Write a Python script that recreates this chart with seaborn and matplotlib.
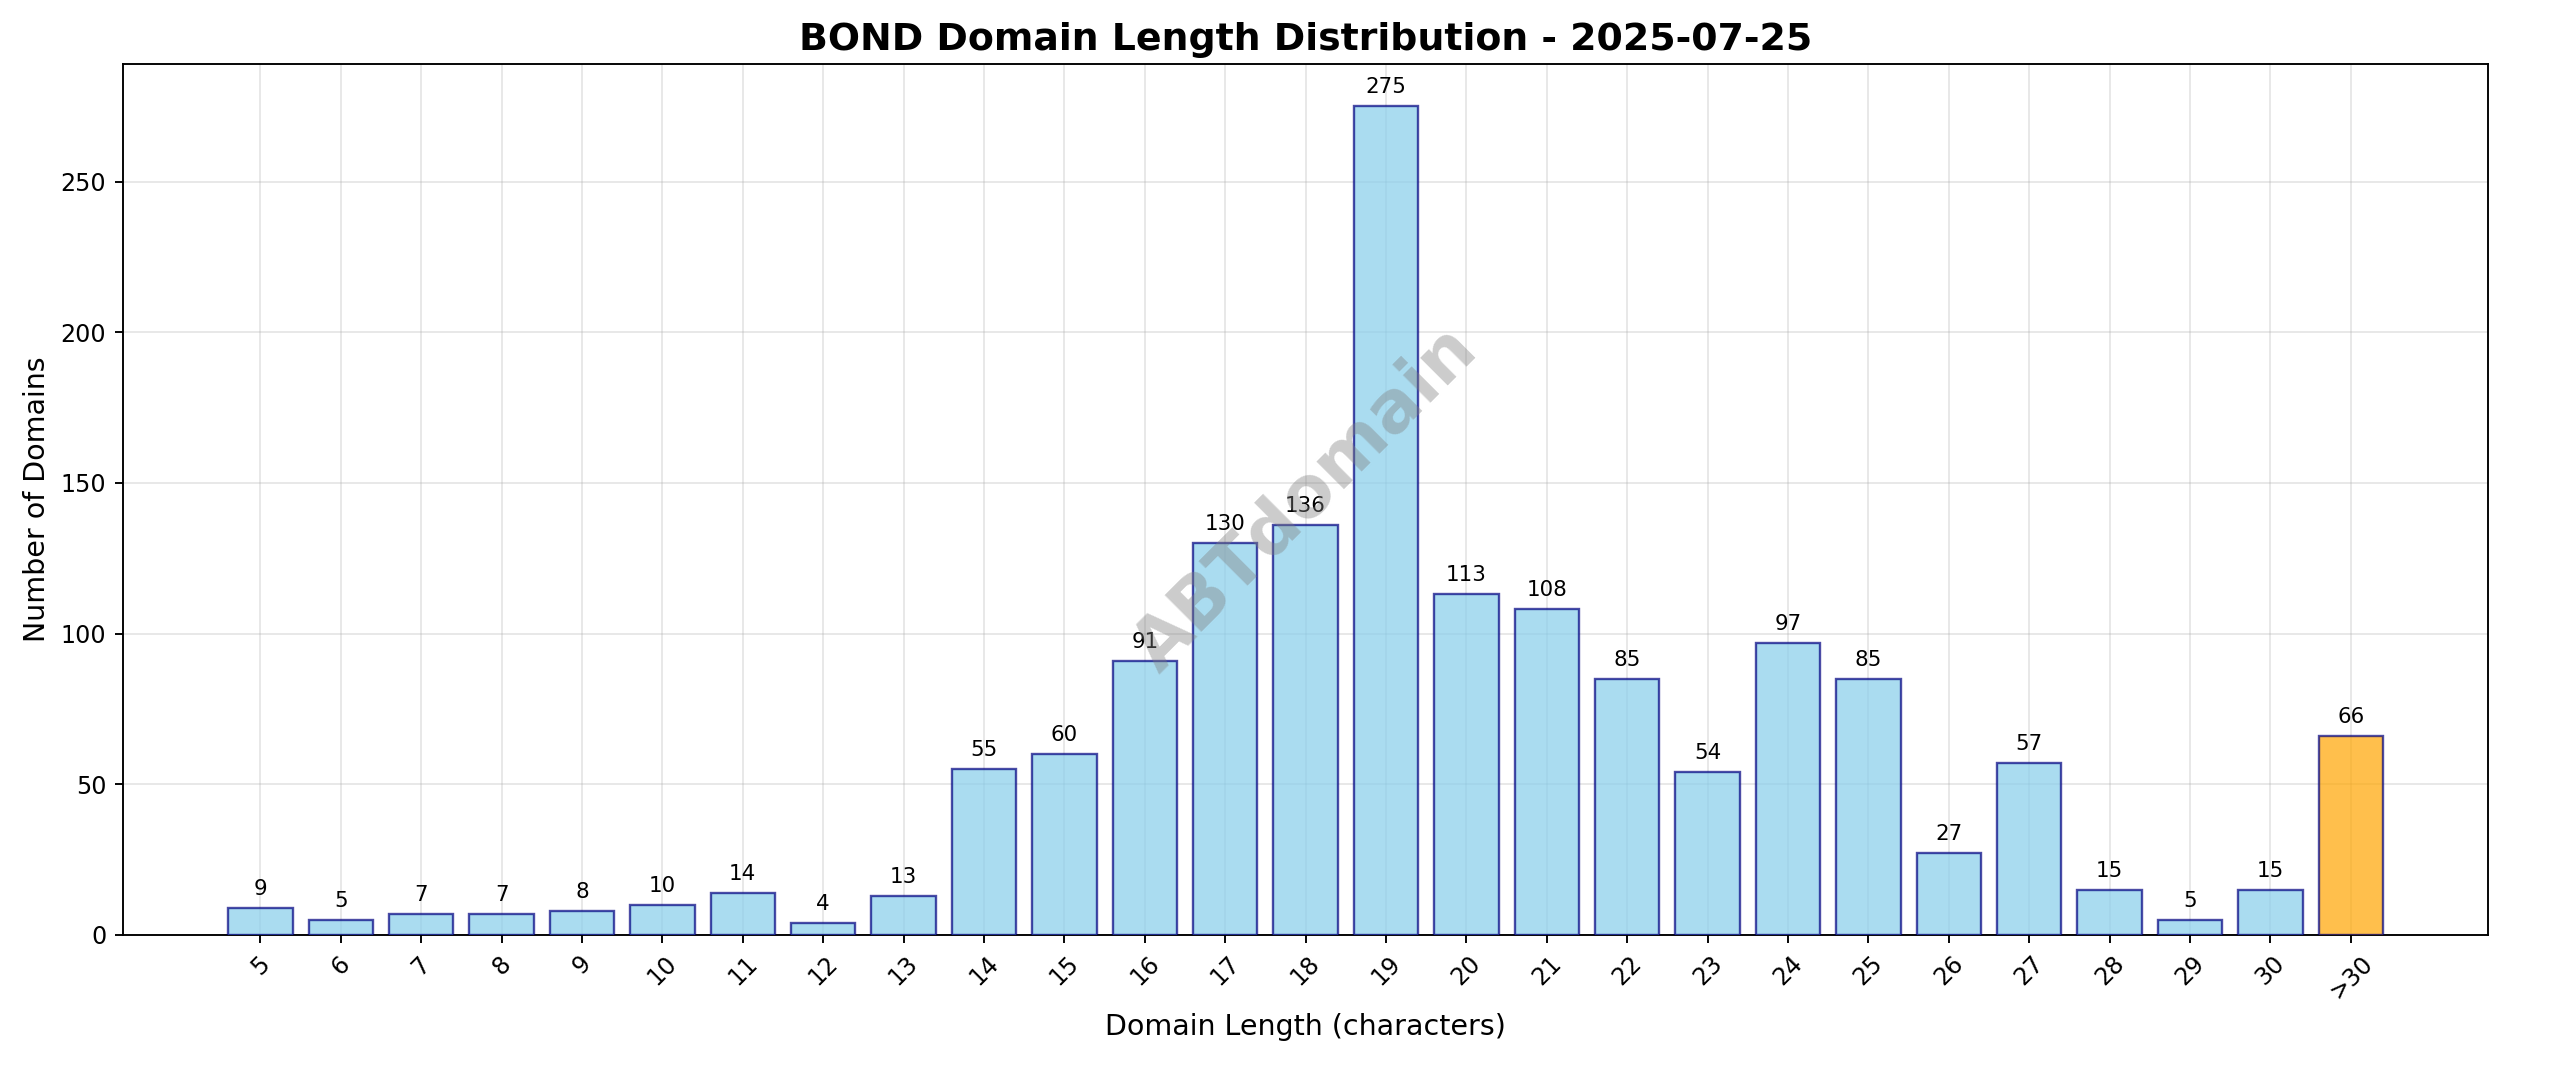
import matplotlib
matplotlib.use("Agg")
import matplotlib.pyplot as plt
import seaborn as sns
import pandas as pd

lengths = ["5","6","7","8","9","10","11","12","13","14","15","16","17","18","19","20",
           "21","22","23","24","25","26","27","28","29","30",">30"]
counts = [9,5,7,7,8,10,14,4,13,55,60,91,130,136,275,113,108,85,54,97,85,27,57,15,5,15,66]

df = pd.DataFrame({"length": lengths, "count": counts})
colors = ["skyblue"] * (len(lengths) - 1) + ["orange"]

dpi = 2560 / 15
fig = plt.figure(figsize=(15, 1087 / dpi), dpi=dpi)
ax = fig.add_axes([0.048, 0.14, 0.924, 0.801])
sns.barplot(data=df, x="length", y="count", hue="length", palette=colors, legend=False,
            order=lengths, hue_order=lengths, ax=ax, width=0.8, saturation=1,
            alpha=0.7, edgecolor="navy", linewidth=1, zorder=3)
for p in ax.patches:
    p.set_edgecolor((0.0, 0.0, 0.5, 0.7))
for i, v in enumerate(counts):
    ax.text(i, v + 3, str(v), ha="center", va="bottom", fontsize=9)
ax.set_xlim(-1.71, len(lengths) - 1 + 1.71)
ax.set_ylim(0, 289)
ax.grid(True, alpha=0.3, zorder=0)
ax.set_axisbelow(True)
ax.tick_params(axis="x", rotation=45)
ax.set_xlabel("Domain Length (characters)", fontsize=12)
ax.set_ylabel("Number of Domains", fontsize=12)
ax.set_title("BOND Domain Length Distribution - 2025-07-25", fontsize=16, fontweight="bold")
ax.text(0.5, 0.5, "ABTdomain", transform=ax.transAxes, fontsize=30, color="gray",
        alpha=0.4, rotation=45, ha="center", va="center", fontweight="bold", zorder=5)
fig.savefig("out.png", dpi=dpi)
